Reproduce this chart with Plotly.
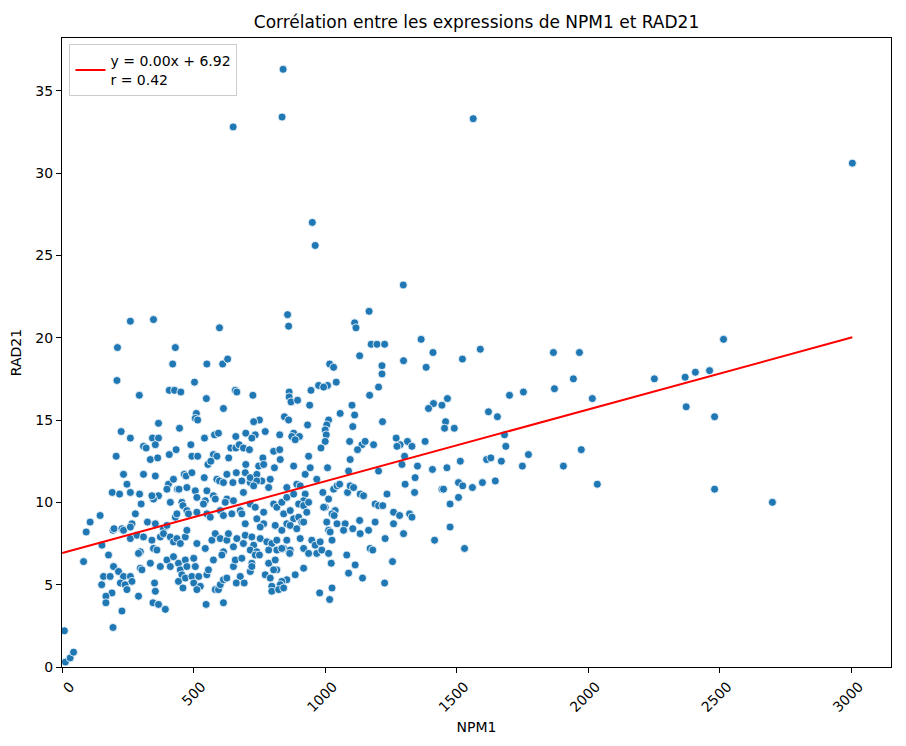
import plotly.graph_objects as go

# NPM1 (x) and RAD21 (y) expression values
npm1_a = [233, 309, 354, 464, 471, 493, 540, 588, 598, 626, 662, 696,
          246, 404, 423, 438, 444, 474, 506, 550, 613, 649, 683, 715,
          190, 218, 259, 294, 366, 347, 341, 398, 300, 411, 455, 459, 512, 544, 537, 575, 582, 626, 651, 620, 689,
          144, 106, 91, 81, 151, 176, 193, 197, 227, 233, 265, 259, 278, 324, 354, 385, 398, 430, 436, 474, 480, 512, 550, 563, 601, 613, 645, 677, 683, 696,
          259, 284, 309, 297, 290, 341, 347, 360, 373, 385, 411, 423, 436, 449, 468, 474, 512, 544, 569, 582, 601, 626, 632, 651, 664, 689, 696,
          195, 214, 233, 157, 150, 182, 221, 239, 246, 259, 265, 189, 166, 166, 290, 297, 303, 335, 373, 351, 354, 345, 366, 392, 227, 193,
          398, 411, 423, 442, 449, 468, 474, 455, 468, 442, 459, 500, 506, 493, 500, 519, 525, 512, 550, 556, 575, 582, 594, 547, 613, 601, 613, 626, 613, 607, 651, 658, 677, 683, 662, 692,
          8, 12, 30, 43]
rad21_a = [11.7, 11.7, 11.6, 11.7, 11.6, 11.8, 11.5, 11.4, 11.3, 11.7, 11.8, 11.8,
           11.1, 11.1, 11.4, 10.8, 10.8, 10.9, 10.7, 10.7, 11.2, 11.2, 11.3, 11.2,
           10.6, 10.5, 10.6, 10.5, 10.4, 10.2, 10.4, 10.8, 9.9, 10.0, 10.0, 9.8, 10.3, 10.1, 9.9, 10.4, 10.2, 10.2, 10.1, 10.0, 10.6,
           9.2, 8.8, 8.2, 6.4, 7.4, 6.8, 8.3, 8.4, 8.4, 8.3, 8.7, 8.5, 9.3, 8.8, 8.7, 8.4, 8.6, 9.1, 9.3, 9.5, 9.3, 9.4, 9.3, 9.1, 9.5, 9.2, 9.3, 9.5, 9.3, 8.7,
           7.8, 8.0, 7.9, 7.0, 6.9, 7.7, 7.2, 7.1, 7.9, 8.1, 7.9, 7.6, 7.8, 7.5, 7.9, 8.3, 7.5, 7.2, 7.7, 8.1, 7.8, 7.7, 8.1, 7.3, 7.8, 7.5, 8.0,
           6.1, 5.8, 5.5, 5.5, 5.0, 5.5, 5.1, 5.0, 4.7, 5.5, 5.2, 4.5, 4.3, 3.9, 4.3, 6.0, 5.9, 6.3, 6.1, 5.1, 4.6, 3.9, 3.8, 3.5, 3.4, 2.4,
           6.5, 6.1, 6.7, 6.3, 5.9, 6.5, 6.1, 5.6, 5.4, 5.2, 4.8, 6.6, 6.1, 5.5, 5.1, 5.5, 4.9, 4.7, 5.6, 5.9, 6.5, 4.7, 4.7, 3.8, 3.9, 5.0, 5.3, 5.4, 7.0, 6.8, 6.1, 6.5, 5.5, 6.6, 5.1, 5.1,
           2.2, 0.3, 0.55, 0.9]

npm1_b = [924, 1089, 1203,
          715, 740, 759, 791, 785, 740, 728,
          854, 892, 905, 924, 918, 968, 991, 1013, 1032, 1045, 1055, 1085, 1095, 1108, 1133, 1146, 1235, 1304, 1340, 1342, 1444, 1450, 1475,
          1190, 1203, 1219, 1000, 1038, 1026, 1034,
          715, 734, 766, 804, 816, 835, 854, 880,
          899, 918, 930, 937, 842, 867, 880, 899, 911,
          740, 766, 753, 810, 835, 854, 867, 892, 918,
          994, 1006, 1013, 1019, 1045, 1076, 1070, 1105, 1133, 1165, 1190, 1131,
          1260, 1260, 1283, 1321, 1330, 1298, 1228, 1416, 1475,
          721, 753, 778, 797, 816, 842, 854, 728, 715, 740, 785, 816, 835,
          867, 865, 905, 918, 949, 962, 981, 937, 968, 987, 1013, 1026, 1082, 1171, 1181,
          734, 721, 750, 785, 810, 816, 772, 791, 804, 715, 721,
          918, 886, 854, 835, 829, 797, 797, 823, 842,
          1023, 1114, 1089, 1142, 1256, 1226, 1026, 979, 1017]
rad21_b = [11.7, 11.9, 11.9,
           11.5, 11.7, 11.3, 11.4, 10.9, 11.3, 11.0,
           10.9, 11.1, 11.0, 10.5, 10.1, 11.4, 10.6, 10.2, 10.8, 11.0, 11.1, 10.6, 11.0, 10.9, 10.5, 10.4, 10.5, 11.1, 10.6, 11.5, 10.8, 10.8, 9.9,
           9.9, 9.8, 9.8, 9.7, 9.5, 9.3, 9.2,
           9.9, 9.7, 9.4, 9.9, 9.7, 10.0, 10.3, 10.5,
           9.9, 9.8, 9.4, 10.0, 9.3, 9.5, 9.0, 9.1, 8.8,
           9.0, 8.7, 8.5, 8.6, 8.3, 8.7, 8.6, 8.4, 8.8,
           9.7, 8.8, 8.3, 8.2, 8.7, 8.7, 8.3, 8.4, 8.1, 8.3, 8.8, 8.9,
           9.4, 8.7, 9.2, 9.3, 9.1, 8.1, 7.8, 7.7, 8.5,
           7.9, 7.8, 7.6, 7.5, 7.7, 7.2, 7.7, 7.4, 7.1, 7.0, 7.1, 7.1, 7.2,
           7.1, 6.9, 7.8, 7.2, 7.7, 7.4, 7.6, 6.9, 6.9, 7.1, 6.9, 7.7, 6.8, 7.2, 7.1,
           6.8, 6.3, 6.8, 6.3, 6.5, 5.9, 5.6, 5.4, 5.9, 5.8, 6.1,
           6.0, 5.6, 5.3, 5.2, 5.0, 4.9, 4.6, 4.7, 4.8,
           6.3, 6.2, 5.7, 5.4, 6.4, 5.1, 4.8, 4.5, 4.1]

npm1_c = [259, 347, 598, 210, 430, 420, 550, 610, 629, 208, 503, 407, 427, 451, 293, 548, 658, 664, 613, 510, 506, 515, 366, 446, 224,
          259, 343, 366, 541, 579, 594, 660, 698, 309, 319, 354, 489, 433, 205, 335, 363, 407, 493, 515, 575, 588, 554, 565, 633, 641, 660, 673, 689, 712, 698]
rad21_c = [21.0, 21.1, 20.6, 19.4, 19.4, 18.4, 18.4, 18.4, 18.7, 17.4, 17.3, 16.8, 16.8, 16.7, 16.5, 16.3, 16.8, 16.7, 15.7, 15.4, 15.1, 15.0, 14.8, 14.5, 14.3,
           13.9, 13.9, 13.9, 13.9, 14.1, 14.2, 14.0, 14.2, 13.4, 13.3, 13.5, 13.5, 13.2, 12.8, 12.6, 12.7, 12.9, 12.8, 12.8, 12.9, 12.8, 12.3, 12.5, 12.7, 13.3, 13.3, 13.5, 13.3, 13.2, 12.3]

npm1_d = [857, 861, 1167, 1112, 1117, 1175, 1197, 1226, 1365, 1410, 1131, 1298, 1216, 1216, 1384, 1017, 1032, 1042, 975, 1009, 994, 946, 1203, 1169,
          863, 863, 870, 895, 725, 941, 1102, 1412, 1393, 1444, 1465, 1057, 1112, 845, 861, 1013, 1006, 1218, 1105, 1458, 1454, 933, 750, 728, 772, 734, 721,
          827, 880, 873, 902, 886, 1000, 1004, 1000, 984, 1093, 1140, 1152, 1184, 1123, 1270, 1313, 1285, 1273, 1330, 1380, 804, 827, 763, 829, 937, 1095, 1302,
          747, 766, 807, 880, 943, 1009, 1292, 1351, 1408, 1463]
rad21_d = [21.4, 20.7, 21.6, 20.9, 20.6, 19.6, 19.6, 19.6, 19.9, 19.1, 18.9, 18.6, 18.3, 17.8, 18.2, 18.4, 18.2, 17.3, 17.1, 17.1, 17.0, 16.8, 17.0, 16.5,
           16.7, 16.4, 16.1, 16.2, 16.5, 15.9, 15.9, 16.0, 15.7, 15.9, 16.3, 15.4, 15.3, 15.2, 15.0, 15.0, 14.7, 14.9, 14.6, 14.9, 14.5, 14.7, 15.0, 14.9, 14.3, 14.1, 13.9,
           14.1, 14.2, 14.0, 14.0, 13.8, 14.4, 14.1, 13.7, 13.3, 13.7, 13.5, 13.7, 13.5, 13.2, 13.9, 13.7, 13.5, 13.4, 13.4, 13.7, 13.1, 13.2, 12.7, 12.6, 12.8, 12.6, 12.8,
           12.2, 12.3, 12.1, 12.2, 12.1, 12.1, 12.3, 12.2, 12.0, 12.1]

npm1_e = [1522, 1590, 1868, 1967, 1944, 2252, 1872, 1754, 1701, 2016, 1621, 1655, 1491, 1682, 1687, 1773, 1974, 1614, 1630, 1670, 1514, 1750, 1906,
          1507, 1523, 1560, 1598, 1647, 2035, 1507, 1530,
          2515, 2369, 2408, 2462, 2373, 2481, 2481, 2701,
          840, 836, 650, 1563, 951, 962, 1297, 3005]
rad21_e = [18.7, 19.3, 19.1, 19.1, 17.5, 17.5, 16.9, 16.7, 16.5, 16.3, 15.5, 15.2, 14.5, 14.1, 13.4, 12.9, 13.2, 12.6, 12.7, 12.5, 12.5, 12.2, 12.2,
           11.2, 11.0, 10.9, 11.2, 11.3, 11.1, 10.3, 7.2,
           19.9, 17.6, 17.9, 18.0, 15.8, 15.2, 10.8, 10.0,
           36.3, 33.4, 32.8, 33.3, 27.0, 25.6, 23.2, 30.6]

npm1 = npm1_a + npm1_b + npm1_c + npm1_d + npm1_e
rad21 = rad21_a + rad21_b + rad21_c + rad21_d + rad21_e

# regression line as reported in the legend
slope = 0.00436
intercept = 6.92
r_value = 0.42
fit_x = [0, max(npm1)]
fit_y = [intercept + slope * v for v in fit_x]

x_ticks = [0, 500, 1000, 1500, 2000, 2500, 3000]
y_ticks = [0, 5, 10, 15, 20, 25, 30, 35]

FONT = "DejaVu Sans"
W, H = 898, 738   # page adds an 8px body margin around the figure

fig = go.Figure()
fig.add_trace(go.Scatter(
    x=npm1, y=rad21, mode="markers", showlegend=False,
    marker=dict(color="#1f77b4", size=8, line=dict(color="white", width=0.8)),
))
fig.add_trace(go.Scatter(
    x=fit_x, y=fit_y, mode="lines",
    name=f"y = {slope:.2f}x + {intercept:.2f}<br>r = {r_value:.2f}",
    line=dict(color="red", width=2),
))

axis_common = dict(
    showgrid=False, zeroline=False, showline=True, mirror=True, automargin=False,
    linecolor="black", linewidth=1, ticks="outside", ticklen=5, tickwidth=1,
    tickcolor="black", tickfont=dict(family=FONT, size=14, color="black"),
)

fig.update_layout(
    width=W, height=H,
    margin=dict(l=54, r=15, t=30, b=79),
    plot_bgcolor="white", paper_bgcolor="white",
    font=dict(family=FONT, size=14, color="black"),
    title=dict(text="Corrélation entre les expressions de NPM1 et RAD21",
               x=468.5 / W, xanchor="center", y=1 - 14 / H, yanchor="middle",
               font=dict(family=FONT, size=17, color="black")),
    xaxis=dict(range=[-1, 3152], tickvals=x_ticks, ticktext=[str(v) for v in x_ticks],
               tickangle=-45, ticklabelshift=8,
               title=dict(text="NPM1", font=dict(family=FONT, size=14), standoff=8),
               **axis_common),
    yaxis=dict(range=[0, 38.2], tickvals=y_ticks, ticktext=[str(v) for v in y_ticks],
               title=dict(text="RAD21", font=dict(family=FONT, size=14), standoff=10),
               **axis_common),
    legend=dict(x=0.009, y=0.99, xanchor="left", yanchor="top",
                bgcolor="rgba(255,255,255,0.8)", bordercolor="#cccccc", borderwidth=1,
                font=dict(family=FONT, size=14, color="black")),
)

fig.write_html("out.html")
